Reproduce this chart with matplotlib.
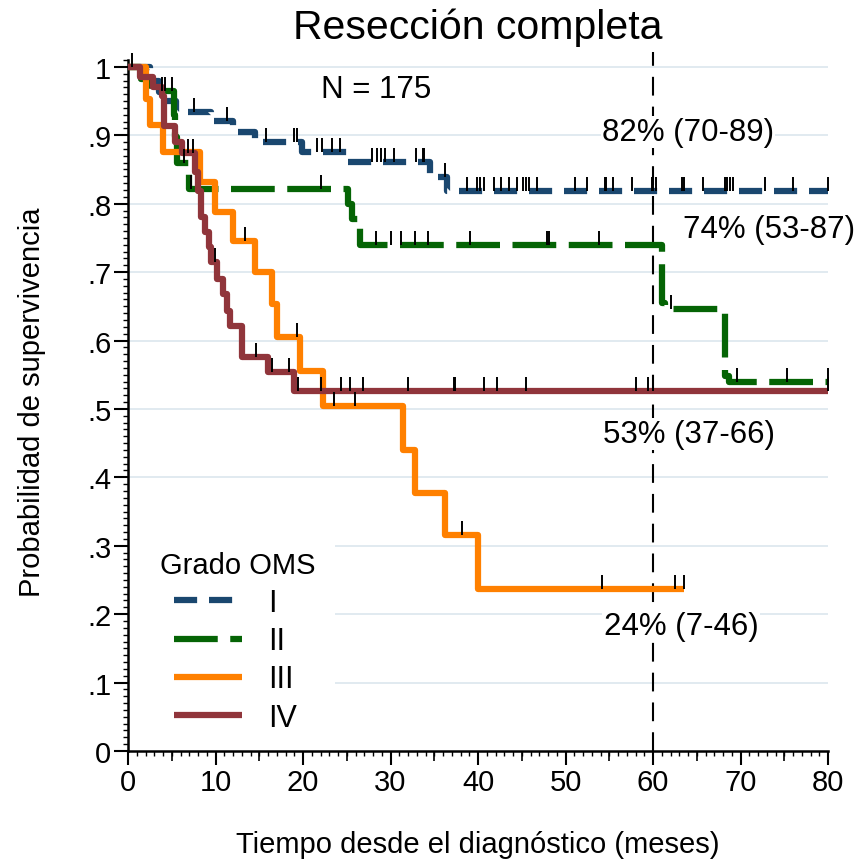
import numpy as np
import matplotlib
matplotlib.use('Agg')
import matplotlib.pyplot as plt
from matplotlib.path import Path
from matplotlib.patches import Rectangle
from matplotlib.ticker import MultipleLocator, FixedLocator, FixedFormatter

plt.rcParams['font.family'] = ['Liberation Sans', 'DejaVu Sans']

# Kaplan-Meier steps (time in months, survival)
t_I = [0, 2.5, 3.5, 4.5, 5.5, 9.5, 12.0, 14.5, 19.9, 25.0, 34.5, 36.5]
s_I = [1.0, 0.98, 0.963, 0.95, 0.934, 0.921, 0.905, 0.89, 0.876, 0.861, 0.839, 0.819]
end_I = 80.0
cens_I = [0.4, 7.5, 11.3, 15.8, 19.0, 19.3, 21.6, 22.2, 23.3, 24.2, 27.9, 28.4, 28.9,
          29.4, 30.4, 32.9, 33.7, 33.8, 36.2, 38.7, 39.9, 40.2, 40.7, 41.8, 42.6, 43.5,
          44.5, 45.1, 45.5, 45.8, 46.7, 51.1, 52.5, 54.5, 54.6, 55.4, 57.6, 59.9, 60.0,
          60.3, 63.3, 63.5, 65.7, 68.2, 68.5, 68.8, 69.1, 72.8, 76.0, 80.0]

t_II = [0, 1.5, 2.5, 5.2, 5.4, 5.6, 7.0, 25.1, 25.6, 26.5, 61.0, 61.4, 68.2, 68.7]
s_II = [1.0, 0.982, 0.965, 0.93, 0.898, 0.86, 0.822, 0.80, 0.778, 0.74, 0.655, 0.646, 0.548, 0.539]
end_II = 80.0
cens_II = [3.9, 4.2, 5.0, 6.4, 7.2, 22.0, 28.3, 30.1, 31.2, 32.8, 34.3, 39.1, 47.9,
           48.1, 53.8, 62.1, 69.6, 75.3, 80.0]

t_III = [0, 2.0, 2.5, 4.0, 8.2, 9.9, 12.0, 14.5, 16.4, 17.0, 19.7, 22.3, 31.4, 32.8, 36.2, 40.0]
s_III = [1.0, 0.953, 0.915, 0.876, 0.831, 0.788, 0.745, 0.70, 0.654, 0.605, 0.556, 0.505,
         0.44, 0.377, 0.315, 0.237]
end_III = 63.5
cens_III = [13.4, 19.3, 23.5, 25.9, 38.2, 54.2, 62.5, 63.5]

t_IV = [0, 1.4, 2.8, 3.9, 4.1, 5.4, 6.2, 7.7, 8.0, 8.3, 8.8, 9.2, 9.5, 10.2, 10.9, 11.3,
        11.7, 13.0, 16.0, 19.0]
s_IV = [1.0, 0.985, 0.971, 0.957, 0.914, 0.89, 0.874, 0.846, 0.818, 0.78, 0.759, 0.737,
        0.715, 0.69, 0.668, 0.643, 0.621, 0.576, 0.554, 0.526]
end_IV = 80.0
cens_IV = [6.9, 7.4, 9.9, 14.6, 16.5, 18.4, 19.4, 22.1, 24.3, 25.4, 26.8, 32.0, 37.3,
           37.4, 40.7, 42.2, 45.5, 58.1, 59.4, 60.0, 80.0]

labels = ['I', 'II', 'III', 'IV']
colors = ['#1a476f', '#056405', '#ff8000', '#90353b']
styles = [(0, (3.7, 1.9)), (0, (7.0, 2.0)), '-', '-']

notes = ['82% (70-89)', '74% (53-87)', '53% (37-66)', '24% (7-46)']


def surv_at(times, surv, t):
    idx = np.searchsorted(times, t, side='right') - 1
    return np.asarray(surv)[idx]


fig = plt.figure(figsize=(8.59, 8.62), dpi=100)
ax = fig.add_axes([128 / 859, 110 / 862, 700 / 859, 691 / 862])
ax.set_xlim(0, 80)
ax.set_ylim(0, 1.01)

for y in np.arange(0.1, 1.01, 0.1):
    ax.axhline(y, color='#dce6ed', lw=1.2, zorder=0)

tick_marker = Path([(0, 0), (0, 1)])

curves = [(t_I, s_I, end_I, cens_I), (t_II, s_II, end_II, cens_II),
          (t_III, s_III, end_III, cens_III), (t_IV, s_IV, end_IV, cens_IV)]
for (tt, ss, end, cens), lab, col, ls in zip(curves, labels, colors, styles):
    x = list(tt) + [end]
    y = list(ss) + [ss[-1]]
    ax.step(x, y, where='post', color=col, lw=4.5, ls=ls, label=lab,
            solid_capstyle='butt', dash_capstyle='butt', zorder=3, clip_on=False)
    ax.plot(cens, surv_at(tt, ss, cens), ls='none', marker=tick_marker, ms=20,
            mec='black', mew=1.4, zorder=5, clip_on=False)

# 60 month reference line
ax.plot([60, 60], [0, 1.022], color='black', lw=1.5, ls=(0, (9, 5.3)), zorder=2,
        clip_on=False)

box = dict(facecolor='white', edgecolor='none', pad=1)
ax.text(28.3, 0.968, 'N = 175', fontsize=22.5, ha='center', va='center', zorder=4, bbox=box)
ax.text(64.0, 0.905, notes[0], fontsize=22.5, ha='center', va='center', zorder=4, bbox=box)
ax.text(63.4, 0.763, notes[1], fontsize=22.5, ha='left', va='center', zorder=4, bbox=box)
ax.text(64.1, 0.463, notes[2], fontsize=22.5, ha='center', va='center', zorder=4, bbox=box)
ax.text(63.2, 0.183, notes[3], fontsize=22.5, ha='center', va='center', zorder=4, bbox=box)

# legend area
ax.add_patch(Rectangle((0, 0.05), 23.7, 0.265, facecolor='white', edgecolor='none', zorder=1))
ax.text(3.66, 0.272, 'Grado OMS', fontsize=21, ha='left', va='center', zorder=4)
ax.legend(loc='upper left', bbox_to_anchor=(46 / 700, (752 - 589) / 691), frameon=False,
          fontsize=22, handlelength=2.23, handletextpad=0.85, labelspacing=0.27,
          borderpad=0, borderaxespad=0)

for side in ['top', 'right']:
    ax.spines[side].set_visible(False)
for side in ['left', 'bottom']:
    ax.spines[side].set_linewidth(1.8)

ax.yaxis.set_major_locator(FixedLocator(np.arange(0, 1.01, 0.1)))
ax.yaxis.set_major_formatter(FixedFormatter(['0', '.1', '.2', '.3', '.4', '.5', '.6',
                                             '.7', '.8', '.9', '1']))
ax.yaxis.set_minor_locator(MultipleLocator(0.01))
ax.xaxis.set_major_locator(MultipleLocator(10))
ax.xaxis.set_minor_locator(MultipleLocator(1))
ax.tick_params(which='major', length=10, width=1.5, labelsize=21, pad=2)
ax.tick_params(which='minor', length=3.5, width=1.0)

sec = ax.secondary_xaxis('bottom')
sec.set_xticks(np.arange(5, 80, 10))
sec.tick_params(length=7, width=1.2, labelbottom=False)
sec.spines['bottom'].set_visible(False)

fig.text(478 / 859, 1 - 28 / 862, 'Resección completa', fontsize=29.5, ha='center', va='center')
fig.text(478 / 859, 1 - 845 / 862, 'Tiempo desde el diagnóstico (meses)', fontsize=21,
         ha='center', va='center')
fig.text(32 / 859, 1 - 402 / 862, 'Probabilidad de supervivencia', fontsize=21,
         ha='center', va='center', rotation=90)

fig.savefig('out.png', dpi=100)
